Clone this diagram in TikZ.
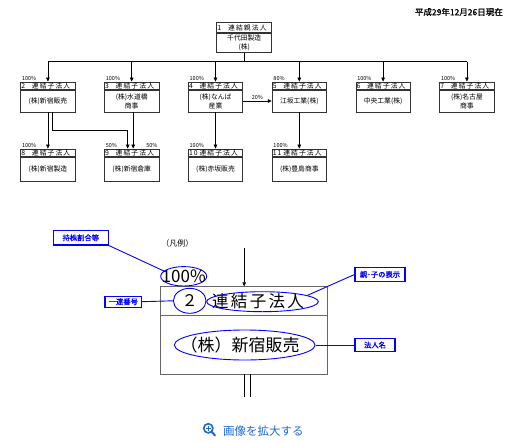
\documentclass[tikz,border=0pt]{standalone}
\usepackage{fontspec}
\setmainfont{Noto Sans CJK JP}
\newfontfamily\hdrfont[LetterSpace=16]{Noto Sans CJK JP}
\newfontfamily\wideFont[LetterSpace=14]{Noto Sans CJK JP}
\newfontfamily\tagfont[FakeBold=1.5]{Noto Sans CJK JP}
\usepackage{xcolor}
\usepackage{tikz}
\usetikzlibrary{arrows.meta,shapes.geometric,positioning}
\definecolor{linkblue}{RGB}{30,105,215}
\definecolor{tagblue}{RGB}{0,0,255}

\begin{document}
\begin{tikzpicture}[x=1pt,y=-1pt,
  hdr/.style={draw=black!80,line width=0.6pt,minimum width=54.5pt,minimum height=7.5pt,inner sep=0pt,anchor=south,text width=53pt,align=left,font=\hdrfont\fontsize{6.8}{6.8}\selectfont},
  body/.style={draw=black!80,line width=0.6pt,minimum width=54.5pt,minimum height=22pt,inner sep=0pt,align=center,font=\fontsize{6.8}{9}\selectfont},
  pct/.style={font=\fontsize{5.5}{5.5}\selectfont,inner sep=0.5pt,anchor=south west},
  arr/.style={-{Triangle[length=4pt,width=3.6pt]},line width=0.6pt},
  bus/.style={line width=1.2pt},
  lgbox/.style={draw=black!60,line width=0.8pt,minimum width=167pt,inner sep=0pt},
  lgline/.style={line width=0.8pt},
  lgtxt/.style={inner sep=0pt,font=\fontsize{16}{16}\selectfont},
  ring/.style={ellipse,draw=tagblue,line width=0.9pt,inner sep=0pt},
  tag/.style={draw=tagblue,line width=1.1pt,fill=white,text=tagblue,inner sep=0pt,font=\tagfont\fontsize{7.3}{7.3}\selectfont},
  lead/.style={draw=tagblue,line width=0.9pt}]
\useasboundingbox[fill=white] (0,0) rectangle (510,441);
\node[font=\tagfont\fontsize{8.5}{8.5}\selectfont,anchor=east,inner sep=0pt] (date) at (503,12) {平成29年12月26日現在};
\node[body,minimum width=55pt,minimum height=19.3pt] (b1) at (244.2,42.7) {千代田製造\\(株)};
\node[hdr,minimum width=55pt,minimum height=9.7pt] (h1) at (b1.north) {\makebox[10.5pt][l]{1}連結親法人};
\foreach \i/\pc/\nm [count=\k from 0] in {2/100/{(株)新宿販売},3/100/{(株)水道橋\\商事},4/100/{(株)なんば\\産業},5/80/{江坂工業(株)},6/100/{中央工業(株)},7/100/{(株)名古屋\\商事}} {
  \node[body] (b\i) at (47.9+83.8*\k,101) {\nm};
  \node[hdr] (h\i) at (b\i.north) {\makebox[10.5pt][l]{\i}連結子法人};
  \node[pct] (p\i) at ([xshift=1pt]h\i.north west) {\pc\%};
}
\foreach \i/\pc/\nm [count=\k from 0] in {8/100/{(株)新宿製造},9/50/{(株)新宿倉庫},10/100/{(株)赤坂販売},11/100/{(株)豊島商事}} {
  \node[body,minimum height=24pt] (b\i) at (47.9+83.8*\k,169) {\nm};
  \node[hdr] (h\i) at (b\i.north) {\makebox[10.5pt][l]{\i}連結子法人};
  \node[pct] (p\i) at ([xshift=1pt]h\i.north west) {\pc\%};
}
\node[pct,anchor=south east] (p9r) at ([xshift=-1pt]h9.north east) {50\%};
\coordinate (bus) at (244.2,61.7);
\draw[bus] (b1.south) -- (bus);
\draw[bus] (h2.north |- bus) -- (h7.north |- bus);
\foreach \i in {2,...,7} \draw[arr] (h\i.north |- bus) -- (h\i.north);
\coordinate (turn) at (52.3,130);
\draw[arr] (b2.south) -- (h8.north);
\draw[arr] (b2.south -| turn) -- (turn) -| ([xshift=-4pt]h9.north);
\draw[arr] ([xshift=1.5pt]b3.south) -- ([xshift=1.5pt]h9.north);
\draw[arr] (b4.south) -- (h10.north);
\draw[arr] (b4.east) -- node[pct,anchor=south,inner sep=1pt] (p45) {20\%} (b5.west);
\draw[arr] (b5.south) -- (h11.north);
\node[font=\fontsize{8}{8}\selectfont,inner sep=0pt] (lgcap) at (177.3,243.3) {（凡例）};
\node[lgbox,minimum height=29pt] (lghd) at (244.2,301.2) {};
\node[lgbox,minimum height=58.3pt] (lgbd) at (244.2,344.85) {};
\coordinate (lgin) at (244.2,248);
\coordinate (lgout) at (244.2,396.7);
\draw[arr] (lgin) -- (lghd.north);
\draw[lgline] (lgbd.south) -- (lgout);
\draw[lgline] ([xshift=6.3pt]lgbd.south) -- ([xshift=6.3pt]lgout);
\node[lgtxt,font=\fontsize{17}{17}\selectfont] (lgpct) at (183.7,276.5) {100\%};
\node[lgtxt] (lgnum) at (189.7,301) {２};
\node[lgtxt,font=\wideFont\fontsize{16.5}{16.5}\selectfont] (lgrel) at (258,301) {連結子法人};
\node[lgtxt,font=\fontsize{17}{17}\selectfont] (lgname) at (240,345) {（株）新宿販売};
\node[ring,minimum width=46pt,minimum height=19.4pt] (epct) at (183.7,276.3) {};
\node[ring,minimum width=32.6pt,minimum height=25pt] (enum) at (189.7,300.8) {};
\node[ring,minimum width=111.6pt,minimum height=20pt] (erel) at (262.5,301.7) {};
\node[ring,minimum width=140.7pt,minimum height=30pt] (ename) at (244.7,345) {};
\node[tag,minimum width=55pt,minimum height=14.3pt] (tpct) at (80.8,237.8) {持株割合等};
\node[tag,minimum width=36.7pt,minimum height=11.3pt] (tnum) at (123.3,301.7) {一連番号};
\node[tag,minimum width=50pt,minimum height=14.4pt] (trel) at (380,274.5) {親･子の表示};
\node[tag,minimum width=40pt,minimum height=13.4pt] (tname) at (375,345) {法人名};
\draw[lead] (tpct.south east) -- (epct.165);
\draw[lead] (tnum.east) -- (enum.west);
\draw[lead] (trel.west) -- (erel.8);
\draw[lead] (tname.west) -- (ename.east);
\draw[linkblue,line width=1.6pt] (208.3,428.3) circle (4.6);
\draw[linkblue,line width=1.2pt] (205.8,428.3) -- (210.8,428.3) (208.3,425.8) -- (208.3,430.8);
\draw[linkblue,line width=2pt,line cap=round] (211.8,431.8) -- (215,435.5);
\node[text=linkblue,font=\fontsize{11.5}{11.5}\selectfont,anchor=west,inner sep=0pt] (zoomlink) at (223,431) {画像を拡大する};
\end{tikzpicture}
\end{document}
